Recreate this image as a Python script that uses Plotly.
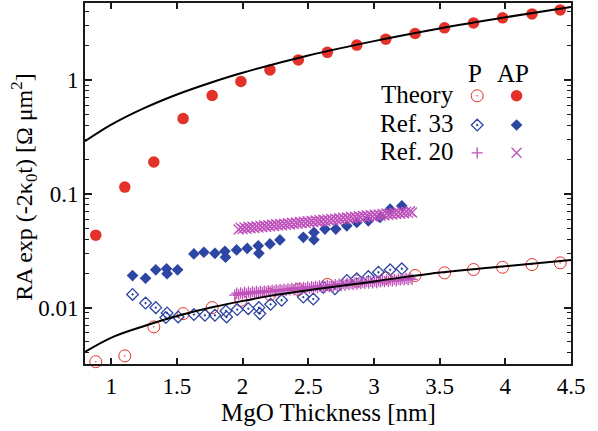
import plotly.graph_objects as go

# ---------------- data ----------------
theory_x = [0.882, 1.103, 1.324, 1.547, 1.768, 1.987, 2.208, 2.424, 2.645,
            2.869, 3.09, 3.313, 3.537, 3.758, 3.979, 4.203, 4.418]
theory_ap = [0.0433, 0.1144, 0.190, 0.457, 0.729, 0.968, 1.223, 1.498, 1.744,
             2.021, 2.278, 2.556, 2.865, 3.164, 3.503, 3.793, 4.114]
theory_p = [0.00335, 0.00377, 0.00677, 0.00886, 0.01000, 0.01159, 0.01307,
            0.01444, 0.01598, 0.01715, 0.01823, 0.01915, 0.02021, 0.02161,
            0.02262, 0.02388, 0.02472]

curve_ap_x = [0.8, 1.0, 1.25, 1.5, 1.75, 2.0, 2.5, 3.0, 3.5, 4.0, 4.5]
curve_ap_y = [0.289, 0.404, 0.564, 0.744, 0.939, 1.154, 1.636, 2.189, 2.825, 3.543, 4.374]
curve_p_x = [0.8, 1.014, 1.268, 1.522, 1.776, 2.03, 2.233, 3.0, 3.428, 4.0, 4.5]
curve_p_y = [0.00409, 0.00554, 0.00700, 0.00857, 0.01012, 0.01160, 0.01281,
             0.01698, 0.01985, 0.02313, 0.02626]

ref33_ap_x = [1.162, 1.261, 1.339, 1.421, 1.425, 1.505, 1.629, 1.705, 1.789,
              1.865, 1.870, 1.954, 2.035, 2.119, 2.124, 2.208, 2.284, 2.462,
              2.543, 2.543, 2.627, 2.709, 2.793, 2.869, 2.957, 3.046, 3.123, 3.212]
ref33_ap_y = [0.01912, 0.01812, 0.02149, 0.02195, 0.01985, 0.02149, 0.02962, 0.03063,
              0.02999, 0.03119, 0.02770, 0.03210, 0.03311, 0.03496, 0.02999, 0.03624,
              0.03929, 0.04140, 0.03947, 0.04574, 0.04898, 0.04898, 0.05231, 0.05592,
              0.05787, 0.06187, 0.07322, 0.07816]

ref33_p_x = [1.162, 1.261, 1.339, 1.415, 1.425, 1.509, 1.629, 1.713, 1.789,
             1.873, 1.878, 1.959, 2.043, 2.124, 2.131, 2.213, 2.297, 2.462,
             2.538, 2.614, 2.703, 2.793, 2.869, 2.957, 3.034, 3.123, 3.212]
ref33_p_y = [0.01306, 0.01097, 0.01000, 0.00818, 0.00897, 0.00828, 0.00869,
             0.00857, 0.00857, 0.00934, 0.00828, 0.00961, 0.00980, 0.01000,
             0.00886, 0.01069, 0.01160, 0.01238, 0.01189, 0.01513, 0.01465,
             0.01732, 0.01794, 0.01875, 0.02046, 0.02148, 0.02194]

ref20_ap_x = [1.970, 1.985, 2.000, 2.015, 2.030, 2.045, 2.060, 2.075, 2.090, 2.105,
              2.120, 2.135, 2.150, 2.165, 2.180, 2.195, 2.210, 2.225, 2.240, 2.255,
              2.270, 2.285, 2.300, 2.315, 2.330, 2.345, 2.360, 2.375, 2.390, 2.405,
              2.420, 2.435, 2.450, 2.465, 2.480, 2.495, 2.510, 2.525, 2.540, 2.555,
              2.570, 2.585, 2.600, 2.615, 2.630, 2.645, 2.660, 2.675, 2.690, 2.705,
              2.720, 2.735, 2.750, 2.765, 2.780, 2.795, 2.810, 2.825, 2.840, 2.855,
              2.870, 2.885, 2.900, 2.915, 2.930, 2.945, 2.960, 2.975, 2.990, 3.005,
              3.020, 3.035, 3.050, 3.065, 3.080, 3.095, 3.110, 3.125, 3.140, 3.155,
              3.170, 3.185, 3.200, 3.215, 3.230, 3.245, 3.260, 3.275, 3.290]
ref20_ap_y = [0.0486, 0.0502, 0.0489, 0.0506, 0.0493, 0.0510, 0.0497, 0.0514, 0.0501, 0.0518,
              0.0505, 0.0522, 0.0509, 0.0526, 0.0513, 0.0530, 0.0517, 0.0534, 0.0521, 0.0539,
              0.0525, 0.0543, 0.0529, 0.0547, 0.0533, 0.0551, 0.0537, 0.0556, 0.0541, 0.0560,
              0.0545, 0.0564, 0.0550, 0.0569, 0.0554, 0.0573, 0.0558, 0.0577, 0.0563, 0.0582,
              0.0567, 0.0586, 0.0571, 0.0591, 0.0576, 0.0596, 0.0580, 0.0600, 0.0585, 0.0605,
              0.0590, 0.0610, 0.0594, 0.0615, 0.0599, 0.0619, 0.0604, 0.0624, 0.0608, 0.0629,
              0.0613, 0.0634, 0.0618, 0.0639, 0.0623, 0.0644, 0.0628, 0.0649, 0.0632, 0.0654,
              0.0637, 0.0659, 0.0642, 0.0665, 0.0647, 0.0670, 0.0653, 0.0675, 0.0658, 0.0680,
              0.0663, 0.0686, 0.0668, 0.0691, 0.0673, 0.0697, 0.0679, 0.0702, 0.0684]

ref20_p_x = [1.940, 1.955, 1.970, 1.985, 2.000, 2.015, 2.030, 2.045, 2.060, 2.075,
             2.090, 2.105, 2.120, 2.135, 2.150, 2.165, 2.180, 2.195, 2.210, 2.225,
             2.240, 2.255, 2.270, 2.285, 2.300, 2.315, 2.330, 2.345, 2.360, 2.375,
             2.390, 2.405, 2.420, 2.435, 2.450, 2.465, 2.480, 2.495, 2.510, 2.525,
             2.540, 2.555, 2.570, 2.585, 2.600, 2.615, 2.630, 2.645, 2.660, 2.675,
             2.690, 2.705, 2.720, 2.735, 2.750, 2.765, 2.780, 2.795, 2.810, 2.825,
             2.840, 2.855, 2.870, 2.885, 2.900, 2.915, 2.930, 2.945, 2.960, 2.975,
             2.990, 3.005, 3.020, 3.035, 3.050, 3.065, 3.080, 3.095, 3.110, 3.125,
             3.140, 3.155, 3.170, 3.185, 3.200, 3.215, 3.230, 3.245, 3.260, 3.275, 3.290]
ref20_p_y = [0.0129, 0.0134, 0.0130, 0.0135, 0.0131, 0.0136, 0.0132, 0.0137, 0.0133, 0.0138,
             0.0134, 0.0139, 0.0135, 0.0139, 0.0136, 0.0140, 0.0137, 0.0141, 0.0138, 0.0142,
             0.0139, 0.0143, 0.0140, 0.0144, 0.0141, 0.0145, 0.0142, 0.0146, 0.0143, 0.0148,
             0.0144, 0.0149, 0.0145, 0.0150, 0.0146, 0.0151, 0.0147, 0.0152, 0.0148, 0.0153,
             0.0149, 0.0154, 0.0150, 0.0155, 0.0151, 0.0156, 0.0152, 0.0157, 0.0153, 0.0158,
             0.0154, 0.0159, 0.0155, 0.0161, 0.0156, 0.0162, 0.0157, 0.0163, 0.0159, 0.0164,
             0.0160, 0.0165, 0.0161, 0.0166, 0.0162, 0.0167, 0.0163, 0.0169, 0.0164, 0.0170,
             0.0165, 0.0171, 0.0166, 0.0172, 0.0168, 0.0173, 0.0169, 0.0175, 0.0170, 0.0176,
             0.0171, 0.0177, 0.0172, 0.0178, 0.0174, 0.0180, 0.0175, 0.0181, 0.0176, 0.0182, 0.0177]

x_tickvals = [1, 1.5, 2, 2.5, 3, 3.5, 4, 4.5]
x_ticktext = ["1", "1.5", "2", "2.5", "3", "3.5", "4", "4.5"]
y_tickvals = [0.01, 0.1, 1]
y_ticktext = ["0.01", "0.1", "1"]

legend_rows = ["Theory", "Ref. 33", "Ref. 20"]
legend_cols = ["P", "AP"]

# ---------------- styling ----------------
RED = "#e3322a"
BLUE = "#2d45a3"
MAG = "#bf52bb"
FONT = "Times New Roman, Liberation Serif, DejaVu Serif, serif"

fig = go.Figure()

fig.add_trace(go.Scatter(x=theory_x, y=theory_p, mode="markers", cliponaxis=False,
                         marker=dict(symbol="circle-open-dot", size=12, color=RED,
                                     line=dict(width=1, color=RED))))
fig.add_trace(go.Scatter(x=theory_x, y=theory_ap, mode="markers", cliponaxis=False,
                         marker=dict(symbol="circle", size=11.5, color=RED, line=dict(width=0))))
fig.add_trace(go.Scatter(x=ref33_p_x, y=ref33_p_y, mode="markers", cliponaxis=False,
                         marker=dict(symbol="diamond-open-dot", size=9, color=BLUE,
                                     line=dict(width=1.3, color=BLUE))))
fig.add_trace(go.Scatter(x=ref33_ap_x, y=ref33_ap_y, mode="markers", cliponaxis=False,
                         marker=dict(symbol="diamond", size=9, color=BLUE, line=dict(width=0))))
fig.add_trace(go.Scatter(x=ref20_p_x, y=ref20_p_y, mode="markers", cliponaxis=False,
                         marker=dict(symbol="cross-thin-open", size=8, color=MAG,
                                     line=dict(width=1.3, color=MAG))))
fig.add_trace(go.Scatter(x=ref20_ap_x, y=ref20_ap_y, mode="markers", cliponaxis=False,
                         marker=dict(symbol="x-thin-open", size=10, color=MAG,
                                     line=dict(width=1.3, color=MAG))))
fig.add_trace(go.Scatter(x=curve_ap_x, y=curve_ap_y, mode="lines", line_shape="spline",
                         line=dict(color="black", width=2)))
fig.add_trace(go.Scatter(x=curve_p_x, y=curve_p_y, mode="lines", line_shape="spline",
                         line=dict(color="black", width=2)))

# ---------------- custom legend (overlay axis in plot-fraction units) ----------------
leg_col_x = [0.807, 0.888]
leg_row_y = [0.743, 0.662, 0.585]
leg_symbols = [
    [dict(symbol="circle-open-dot", size=12, color=RED, line=dict(width=1, color=RED)),
     dict(symbol="circle", size=11.5, color=RED, line=dict(width=0))],
    [dict(symbol="diamond-open-dot", size=9, color=BLUE, line=dict(width=1.3, color=BLUE)),
     dict(symbol="diamond", size=9, color=BLUE, line=dict(width=0))],
    [dict(symbol="cross-thin-open", size=8, color=MAG, line=dict(width=1.3, color=MAG)),
     dict(symbol="x-thin-open", size=10, color=MAG, line=dict(width=1.3, color=MAG))],
]
for r, row in enumerate(leg_symbols):
    for c, mk in enumerate(row):
        fig.add_trace(go.Scatter(x=[leg_col_x[c]], y=[leg_row_y[r]], mode="markers",
                                 xaxis="x2", yaxis="y2", marker=mk, cliponaxis=False))

annotations = []
for r, name in enumerate(legend_rows):
    annotations.append(dict(text=name, x=0.763, y=leg_row_y[r] + 0.004, xref="paper", yref="paper",
                            xanchor="right", yanchor="middle", showarrow=False,
                            font=dict(family=FONT, size=25, color="black")))
for c, name in enumerate(legend_cols):
    annotations.append(dict(text=name, x=[0.802, 0.881][c], y=0.806, xref="paper", yref="paper",
                            xanchor="center", yanchor="middle", showarrow=False,
                            font=dict(family=FONT, size=25, color="black")))
annotations.append(dict(text="MgO Thickness [nm]", x=0.5, y=-0.135, xref="paper", yref="paper",
                        xanchor="center", yanchor="middle", showarrow=False,
                        font=dict(family=FONT, size=25, color="black")))
annotations.append(dict(text="RA exp (-2κ<sub>0</sub>t) [Ω μm<sup>2</sup>]", x=-0.126, y=0.49,
                        xref="paper", yref="paper", textangle=-90,
                        xanchor="center", yanchor="middle", showarrow=False,
                        font=dict(family=FONT, size=24, color="black")))

axis_common = dict(showline=True, linecolor="#1a1a1a", linewidth=2, mirror="ticks",
                   ticks="inside", tickcolor="#1a1a1a", tickwidth=1.5, showgrid=False,
                   zeroline=False, tickfont=dict(family=FONT, size=23, color="black"))

fig.update_layout(
    width=598, height=431,
    margin=dict(l=85, r=27, t=1, b=67),
    paper_bgcolor="white", plot_bgcolor="white",
    showlegend=False,
    font=dict(family=FONT),
    annotations=annotations,
    xaxis=dict(range=[0.8, 4.5], tickvals=x_tickvals, ticktext=x_ticktext, ticklen=6,
               **axis_common),
    yaxis=dict(type="log", range=[-2.495, 0.675], tickvals=y_tickvals, ticktext=y_ticktext,
               ticklen=7,
               minor=dict(ticks="inside", ticklen=4, tickcolor="#1a1a1a", tickwidth=1.2,
                          dtick="D1", showgrid=False),
               **axis_common),
    xaxis2=dict(overlaying="x", range=[0, 1], visible=False),
    yaxis2=dict(overlaying="y", range=[0, 1], visible=False),
)

fig.write_html("out.html", config={"displayModeBar": False},
               post_script="document.body.style.margin='0';")
